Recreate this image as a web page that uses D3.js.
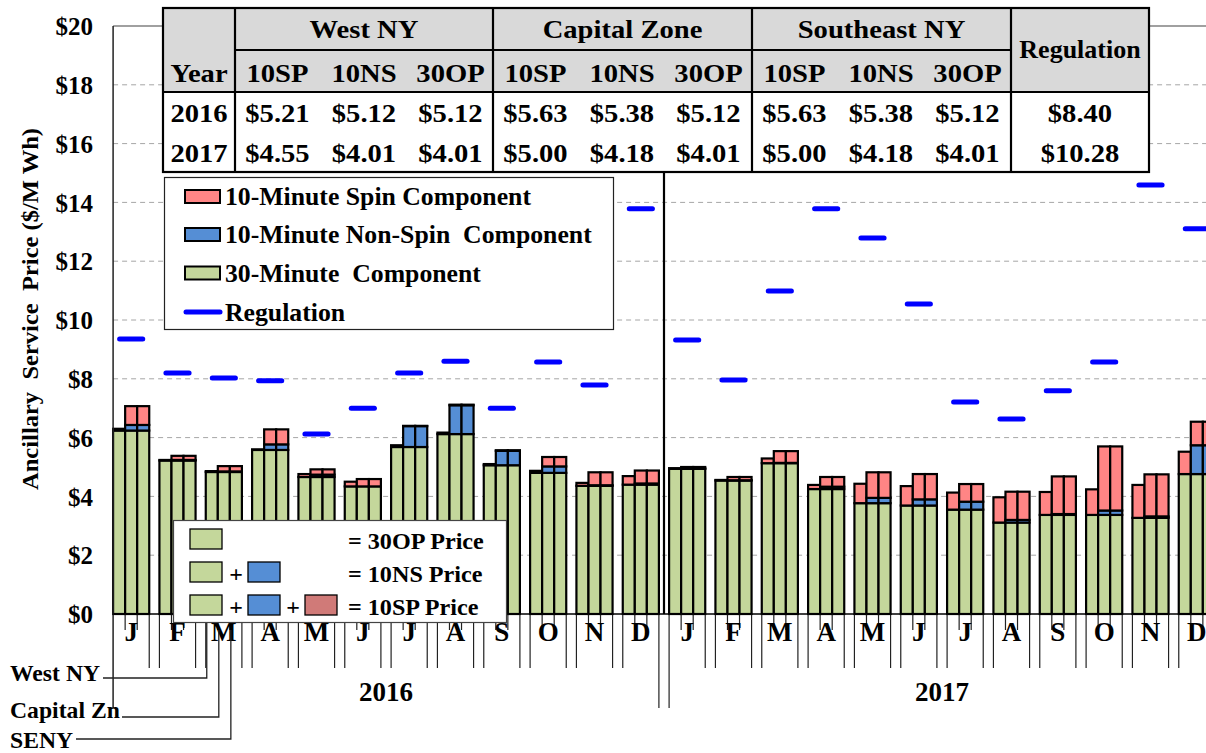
<!DOCTYPE html>
<html>
<head>
<meta charset="utf-8">
<script src="https://cdn.jsdelivr.net/npm/d3@7"></script>
<style>
  body { margin: 0; background: #fff; }
  text { font-family: "Liberation Serif", "Times New Roman", serif; font-weight: bold; fill: #000; white-space: pre; }
</style>
</head>
<body>
<div id="chart-area"></div>
<script>

//**************** Data *****************//

const months = ['J','F','M','A','M','J','J','A','S','O','N','D',
                'J','F','M','A','M','J','J','A','S','O','N','D'];
const years = ['2016', '2017'];
const zones = ['West NY', 'Capital Zn', 'SENY'];

// 30-minute price (same in every zone)
const price30 = [6.24, 5.22, 4.83, 5.58, 4.66, 4.34, 5.68, 6.12, 5.06, 4.80, 4.36, 4.40,
                 4.94, 4.54, 5.13, 4.25, 3.77, 3.69, 3.55, 3.11, 3.37, 3.37, 3.27, 4.76];

// 10-minute non-spin price
const west10NS = [6.24, 5.22, 4.83, 5.58, 4.66, 4.34, 5.68, 6.12, 5.06, 4.80, 4.36, 4.40,
                  4.94, 4.54, 5.13, 4.25, 3.77, 3.69, 3.55, 3.11, 3.37, 3.37, 3.27, 4.76];
const capital10NS = [6.43, 5.24, 4.85, 5.77, 4.74, 4.34, 6.39, 7.10, 5.55, 5.02, 4.38, 4.44,
                     4.95, 4.55, 5.14, 4.33, 3.95, 3.90, 3.82, 3.20, 3.40, 3.52, 3.32, 5.74];
const seny10NS = [6.43, 5.24, 4.85, 5.77, 4.74, 4.34, 6.39, 7.10, 5.55, 5.02, 4.38, 4.44,
                  4.95, 4.55, 5.14, 4.33, 3.95, 3.90, 3.82, 3.20, 3.40, 3.52, 3.32, 5.74];

// 10-minute spin price
const west10SP = [6.30, 5.24, 4.86, 5.60, 4.76, 4.50, 5.74, 6.17, 5.10, 4.87, 4.46, 4.69,
                  4.96, 4.56, 5.29, 4.39, 4.43, 4.35, 4.13, 3.97, 4.15, 4.24, 4.39, 5.52];
const capital10SP = [7.07, 5.38, 5.03, 6.28, 4.92, 4.59, 6.40, 7.12, 5.57, 5.34, 4.82, 4.88,
                     5.00, 4.66, 5.54, 4.66, 4.82, 4.76, 4.42, 4.16, 4.68, 5.70, 4.75, 6.54];
const seny10SP = [7.07, 5.38, 5.03, 6.28, 4.92, 4.59, 6.40, 7.12, 5.57, 5.34, 4.82, 4.88,
                  5.00, 4.66, 5.54, 4.66, 4.82, 4.76, 4.42, 4.16, 4.68, 5.70, 4.75, 6.54];

const regulation = [9.35, 8.20, 8.03, 7.93, 6.12, 7.00, 8.20, 8.60, 7.00, 8.57, 7.79, 13.78,
                    9.32, 7.96, 10.99, 13.78, 12.79, 10.54, 7.21, 6.63, 7.59, 8.57, 14.59, 13.10];

const yTicks = [0, 2, 4, 6, 8, 10, 12, 14, 16, 18, 20];

// summary table
const tableZones = ['West NY', 'Capital Zone', 'Southeast NY'];
const tableProducts = ['10SP', '10NS', '30OP'];
const table2016 = [5.21, 5.12, 5.12, 5.63, 5.38, 5.12, 5.63, 5.38, 5.12];
const table2017 = [4.55, 4.01, 4.01, 5.00, 4.18, 4.01, 5.00, 4.18, 4.01];
const tableReg = [8.40, 10.28];

const legendNames = ['10-Minute Spin Component', '10-Minute Non-Spin  Component',
                     '30-Minute  Component', 'Regulation'];
const priceNames = ['= 30OP Price', '= 10NS Price', '= 10SP Price'];

//**************** Canvas *****************//

const width = 1206, height = 753;
const green = '#c4d79b', blue = '#558ed5', pink = '#ff8585', rose = '#d07a78', regBlue = '#0000ff';

const svg = d3.select('#chart-area').append('svg')
  .attr('width', width)
  .attr('height', height);

svg.append('rect').attr('width', width).attr('height', height).attr('fill', '#fff');

function label(g, txt, x, y, size, anchor, sx) {
  return g.append('text')
    .attr('transform', 'translate(' + x + ',' + y + ') scale(' + (sx || 1) + ',1)')
    .attr('text-anchor', anchor || 'start')
    .attr('font-size', size + 'px')
    .text(txt);
}

//**************** Scales *****************//

const y = d3.scaleLinear().domain([0, 20]).range([614, 26]);

const x = d3.scaleBand()
  .domain(d3.range(months.length))
  .range([108, 1220])
  .paddingInner(0.22)
  .paddingOuter(0.11);

const xz = d3.scaleBand().domain(zones).range([0, x.bandwidth()]);

const frameLeft = x(0);
const yearSplit = (x(11) + x.bandwidth() + x(12)) / 2;

//**************** Grid *****************//

svg.append('g').selectAll('line')
  .data(yTicks.filter(d => d > 0 && d < 20))
  .enter().append('line')
    .attr('x1', frameLeft).attr('x2', width)
    .attr('y1', d => y(d)).attr('y2', d => y(d))
    .attr('stroke', '#a6a6a6')
    .attr('stroke-dasharray', '5,4');

svg.append('line')
  .attr('x1', frameLeft).attr('x2', width)
  .attr('y1', y(20)).attr('y2', y(20))
  .attr('stroke', '#808080').attr('stroke-width', 1.5);

//**************** Bars *****************//

const nsByZone = [west10NS, capital10NS, seny10NS];
const spByZone = [west10SP, capital10SP, seny10SP];

const segs = [];
months.forEach((m, i) => {
  zones.forEach((z, k) => {
    const ns = nsByZone[k][i], sp = spByZone[k][i];
    segs.push({ i: i, z: z, y0: 0, y1: price30[i], c: green });
    segs.push({ i: i, z: z, y0: price30[i], y1: ns, c: blue });
    segs.push({ i: i, z: z, y0: ns, y1: sp, c: pink });
  });
});

svg.append('g').selectAll('rect')
  .data(segs)
  .enter().append('rect')
    .attr('x', d => x(d.i) + xz(d.z))
    .attr('width', xz.bandwidth())
    .attr('y', d => y(d.y1))
    .attr('height', d => y(d.y0) - y(d.y1))
    .attr('fill', d => d.c)
    .attr('stroke', '#000')
    .attr('stroke-width', 2.2);

// Regulation dashes
svg.append('g').selectAll('line')
  .data(regulation)
  .enter().append('line')
    .attr('x1', (d, i) => x(i) + 6.5)
    .attr('x2', (d, i) => x(i) + x.bandwidth() - 6.5)
    .attr('y1', d => y(d)).attr('y2', d => y(d))
    .attr('stroke', regBlue)
    .attr('stroke-width', 5)
    .attr('stroke-linecap', 'round');

//**************** Axes *****************//

// year divider inside the plot
svg.append('line')
  .attr('x1', yearSplit).attr('x2', yearSplit)
  .attr('y1', y(20)).attr('y2', y(0))
  .attr('stroke', '#000').attr('stroke-width', 2.2);

// y axis labels
const yAxisGroup = svg.append('g')
  .attr('transform', 'translate(' + frameLeft + ',0)')
  .call(d3.axisLeft(y).tickValues(yTicks).tickFormat(d => '$' + d).tickSize(0).tickPadding(20));
yAxisGroup.select('.domain').remove();
yAxisGroup.selectAll('text')
  .attr('font-size', '25px')
  .attr('font-family', '"Liberation Serif", serif')
  .attr('dy', '0.35em');

// frame and baseline
svg.append('line')
  .attr('x1', frameLeft).attr('x2', frameLeft)
  .attr('y1', y(20)).attr('y2', 708)
  .attr('stroke', '#222').attr('stroke-width', 1.5);

// x ticks: long lines at group edges, short at bar boundaries
const tickG = svg.append('g').attr('stroke', '#222').attr('stroke-width', 1.2);
months.forEach((m, i) => {
  const xl = x(i), xr = x(i) + x.bandwidth();
  const leftEnd = (i === 12) ? 708 : 668;
  const rightEnd = (i === 11 || i === 23) ? 708 : 668;
  if (i > 0) tickG.append('line').attr('x1', xl).attr('x2', xl).attr('y1', y(0)).attr('y2', leftEnd);
  tickG.append('line').attr('x1', xr).attr('x2', xr).attr('y1', y(0)).attr('y2', rightEnd);
  zones.slice(1).forEach(z => {
    tickG.append('line')
      .attr('x1', xl + xz(z)).attr('x2', xl + xz(z))
      .attr('y1', y(0)).attr('y2', 630);
  });
});

svg.append('line')
  .attr('x1', frameLeft).attr('x2', width)
  .attr('y1', y(0)).attr('y2', y(0))
  .attr('stroke', '#000').attr('stroke-width', 1.5);

// month labels
const xAxisGroup = svg.append('g')
  .attr('transform', 'translate(0,' + y(0) + ')')
  .call(d3.axisBottom(x).tickSize(0).tickPadding(8).tickFormat(i => months[i]));
xAxisGroup.select('.domain').remove();
xAxisGroup.selectAll('text')
  .attr('font-size', '27px')
  .attr('font-family', '"Liberation Serif", serif')
  .attr('dy', '0.71em');

// year labels
years.forEach((yr, k) => {
  const a = k === 0 ? frameLeft : x(12);
  const b = k === 0 ? x(11) + x.bandwidth() : x(23) + x.bandwidth();
  label(svg, yr, (a + b) / 2, 701, 27, 'middle');
});

// zone leader lines
const leaderY = [678, 717, 739];
const leaderText = [681, 718, 748];
const leaderStart = [103, 122, 76];
const leaderTop = [y(0), 630, 630];
const leaderG = svg.append('g').attr('stroke', '#222').attr('stroke-width', 1.3).attr('fill', 'none');
zones.forEach((z, k) => {
  const lx = x(2) + xz(z) + 1;
  leaderG.append('path')
    .attr('d', 'M' + leaderStart[k] + ',' + leaderY[k] + 'H' + lx + 'V' + leaderTop[k]);
  label(svg, z, 10, leaderText[k], 23, 'start', 1.03);
});

// y axis title
svg.append('text')
  .attr('transform', 'translate(38,309) rotate(-90)')
  .attr('text-anchor', 'middle')
  .attr('font-size', '23px')
  .attr('textLength', 362)
  .attr('lengthAdjust', 'spacingAndGlyphs')
  .text('Ancillary  Service  Price ($/M Wh)');

//**************** Legends *****************//

const leg = svg.append('g');
leg.append('rect')
  .attr('x', 164.5).attr('y', 177.5).attr('width', 449).attr('height', 152)
  .attr('fill', '#fff').attr('stroke', '#222').attr('stroke-width', 1.2);

const legColors = [pink, blue, green];
const legY = [196.5, 234.5, 273, 312];
legendNames.forEach((name, k) => {
  if (k < 3) {
    leg.append('rect')
      .attr('x', 185).attr('y', legY[k] - 6.5).attr('width', 35).attr('height', 13)
      .attr('fill', legColors[k]).attr('stroke', '#000').attr('stroke-width', 2);
  } else {
    leg.append('line')
      .attr('x1', 186).attr('x2', 220).attr('y1', legY[k]).attr('y2', legY[k])
      .attr('stroke', regBlue).attr('stroke-width', 5).attr('stroke-linecap', 'round');
  }
  label(leg, name, 225, legY[k] + 8.5, 25, 'start', 1.03);
});

const leg2 = svg.append('g');
leg2.append('rect')
  .attr('x', 173.5).attr('y', 520.5).attr('width', 333).attr('height', 102)
  .attr('fill', '#fff').attr('stroke', '#444').attr('stroke-width', 1.2);

const swatchColors = [green, blue, rose];
const swatchX = [190, 248, 305];
const rowY = [529, 562, 595];
priceNames.forEach((name, k) => {
  for (let j = 0; j <= k; j++) {
    leg2.append('rect')
      .attr('x', swatchX[j]).attr('y', rowY[k]).attr('width', 32).attr('height', 20)
      .attr('fill', swatchColors[j]).attr('stroke', '#000').attr('stroke-width', 1.3);
    if (j > 0) label(leg2, '+', swatchX[j] - 12, rowY[k] + 20, 24, 'middle').attr('font-weight', 'normal');
  }
  label(leg2, name, 348, rowY[k] + 20, 23, 'start', 1.05);
});

//**************** Table *****************//

const tb = svg.append('g');
const tLeft = 163, tRight = 1149, tTop = 8, tBottom = 172;
const colEdges = [163, 235, 493, 752, 1011, 1149];
const rowEdges = [8, 50, 92, 172];

tb.append('rect')
  .attr('x', tLeft).attr('y', tTop).attr('width', tRight - tLeft).attr('height', tBottom - tTop)
  .attr('fill', '#fff');
tb.append('rect')
  .attr('x', tLeft).attr('y', tTop).attr('width', tRight - tLeft).attr('height', rowEdges[2] - tTop)
  .attr('fill', '#d9d9d9');

const tLines = tb.append('g').attr('stroke', '#000').attr('stroke-width', 2.2);
tLines.append('rect')
  .attr('x', tLeft).attr('y', tTop).attr('width', tRight - tLeft).attr('height', tBottom - tTop)
  .attr('fill', 'none');
colEdges.slice(1, -1).forEach(cx => {
  tLines.append('line').attr('x1', cx).attr('x2', cx).attr('y1', tTop).attr('y2', tBottom);
});
tLines.append('line').attr('x1', colEdges[1]).attr('x2', colEdges[4]).attr('y1', rowEdges[1]).attr('y2', rowEdges[1]);
tLines.append('line').attr('x1', tLeft).attr('x2', tRight).attr('y1', rowEdges[2]).attr('y2', rowEdges[2]);

const fmt = d3.format('$.2f');
const tSize = 26, tsx = 1.1;
label(tb, 'Year', (colEdges[0] + colEdges[1]) / 2, 82, tSize, 'middle', tsx);
label(tb, 'Regulation', (colEdges[4] + colEdges[5]) / 2, 58, tSize, 'middle', 1.0);
years.forEach((yr, r) => {
  label(tb, yr, (colEdges[0] + colEdges[1]) / 2, r === 0 ? 122 : 162, tSize, 'middle', tsx);
  label(tb, fmt(tableReg[r]), (colEdges[4] + colEdges[5]) / 2, r === 0 ? 122 : 162, tSize, 'middle', tsx);
});
tableZones.forEach((z, g) => {
  const gl = colEdges[g + 1];
  label(tb, z, (gl + colEdges[g + 2]) / 2, 38, tSize, 'middle', tsx);
  tableProducts.forEach((p, k) => {
    const cx = gl + 129 + (k - 1) * 86.5;
    label(tb, p, cx, 82, tSize, 'middle', tsx);
    label(tb, fmt(table2016[g * 3 + k]), cx, 122, tSize, 'middle', tsx);
    label(tb, fmt(table2017[g * 3 + k]), cx, 162, tSize, 'middle', tsx);
  });
});

</script>
</body>
</html>
